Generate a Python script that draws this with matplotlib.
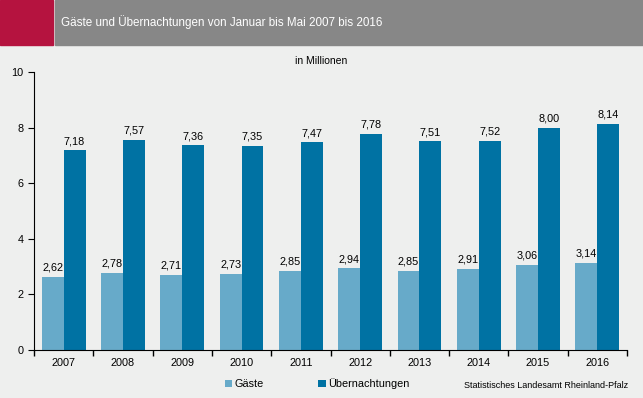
import numpy as np
import matplotlib.pyplot as plt
from matplotlib.patches import Rectangle

years = ['2007', '2008', '2009', '2010', '2011', '2012', '2013', '2014', '2015', '2016']
gaeste = [2.62, 2.78, 2.71, 2.73, 2.85, 2.94, 2.85, 2.91, 3.06, 3.14]
uebernachtungen = [7.18, 7.57, 7.36, 7.35, 7.47, 7.78, 7.51, 7.52, 8.00, 8.14]

bg = '#eeefee'
c_light = '#67aac9'
c_dark = '#0072a3'

plt.rcParams['font.family'] = ['Liberation Sans', 'DejaVu Sans']

fig = plt.figure(figsize=(6.43, 3.98), dpi=100, facecolor=bg)

# header bar
fig.patches.append(Rectangle((0, 1 - 45 / 398), 53 / 643, 45 / 398, transform=fig.transFigure,
                             color='#b5133f', zorder=0))
fig.patches.append(Rectangle((55 / 643, 1 - 45 / 398), 1, 45 / 398, transform=fig.transFigure,
                             color='#878787', zorder=0))
fig.text(61 / 643, 1 - 22 / 398, 'Gäste und Übernachtungen von Januar bis Mai 2007 bis 2016',
         color='white', fontsize=8.4, va='center', ha='left')

ax = fig.add_axes([34 / 643, 1 - 350 / 398, (627 - 34) / 643, (350 - 72) / 398])
ax.set_facecolor(bg)

x = np.arange(len(years))
w = 0.37
b1 = ax.bar(x - w / 2, gaeste, w, color=c_light, label='Gäste')
b2 = ax.bar(x + w / 2, uebernachtungen, w, color=c_dark, label='Übernachtungen')

for rect, v in zip(b1, gaeste):
    ax.text(rect.get_x() + rect.get_width() / 2, v + 0.15, f'{v:.2f}'.replace('.', ','),
            ha='center', va='bottom', fontsize=7.8)
for rect, v in zip(b2, uebernachtungen):
    ax.text(rect.get_x() + rect.get_width() / 2, v + 0.15, f'{v:.2f}'.replace('.', ','),
            ha='center', va='bottom', fontsize=7.8)

ax.set_xlim(-0.5, len(years) - 0.5)
ax.set_ylim(0, 10)
ax.set_yticks([0, 2, 4, 6, 8, 10])
ax.set_xticks(x)
ax.set_xticklabels(years, fontsize=7.8)
ax.set_xticks(np.arange(-0.5, len(years), 1), minor=True)
ax.tick_params(axis='x', which='major', length=0, pad=6)
ax.tick_params(axis='x', which='minor', length=4, width=1, direction='out')
ax.tick_params(axis='y', labelsize=7.8, length=4, direction='out')

for s in ['top', 'right']:
    ax.spines[s].set_visible(False)

ax.text(0.484, 1.04, 'in Millionen', transform=ax.transAxes, ha='center', va='center', fontsize=7.5)

fig.legend(handles=[b1, b2], loc='center left', bbox_to_anchor=(215 / 643, 1 - 384 / 398),
           ncol=2, frameon=False, fontsize=7.8, handlelength=0.7, handleheight=0.7,
           handletextpad=0.2, columnspacing=5.0)

fig.text(628 / 643, 1 - 386 / 398, 'Statistisches Landesamt Rheinland-Pfalz',
         ha='right', va='center', fontsize=6.5)

plt.savefig('out.png', dpi=100, facecolor=bg)
